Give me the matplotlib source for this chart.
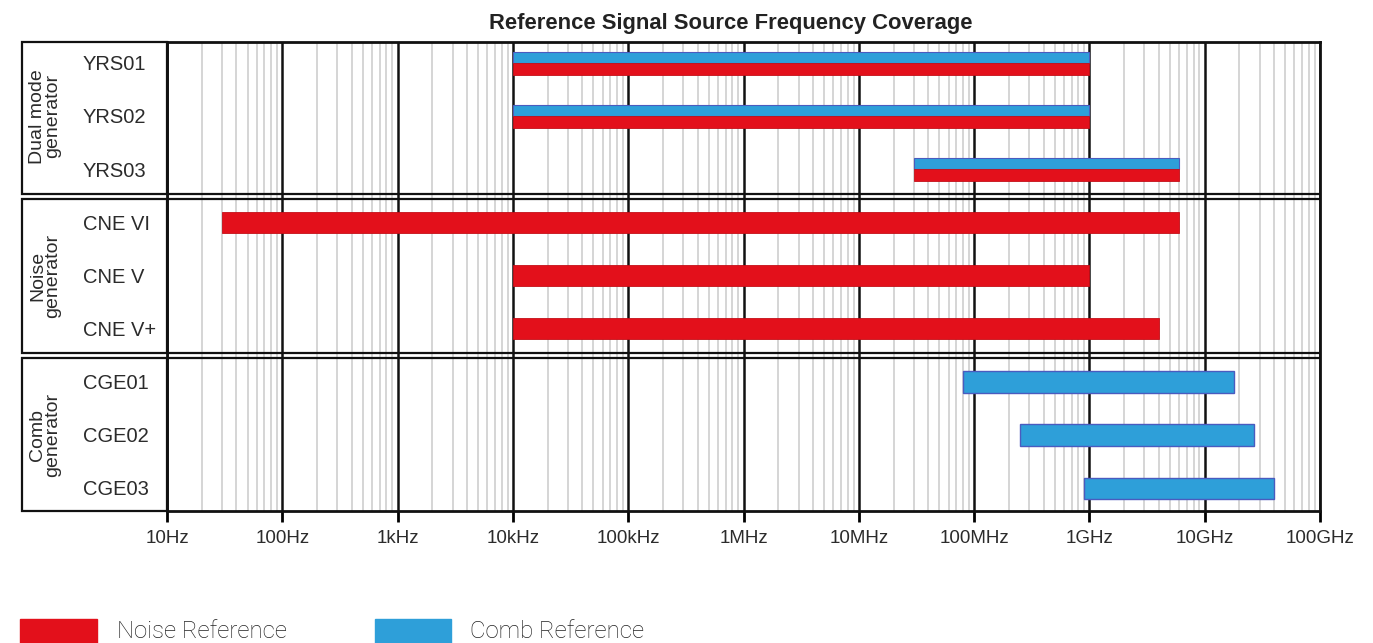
import matplotlib
matplotlib.use('Agg')
import matplotlib.pyplot as plt
import matplotlib.transforms as mtransforms
from matplotlib.patches import Rectangle
from matplotlib.ticker import LogLocator, FixedLocator, NullFormatter

plt.rcParams['font.family'] = ['Liberation Sans', 'DejaVu Sans']

# rows, top to bottom
devices = ['YRS01', 'YRS02', 'YRS03', 'CNE VI', 'CNE V', 'CNE V+', 'CGE01', 'CGE02', 'CGE03']
groups = ['Dual mode\ngenerator', 'Noise\ngenerator', 'Comb\ngenerator']
group_sizes = [3, 3, 3]

# frequency ranges in Hz (None = not covered)
noise_start = [1e4, 1e4, 3e7, 3e1, 1e4, 1e4, None, None, None]
noise_stop = [1e9, 1e9, 6e9, 6e9, 1e9, 4e9, None, None, None]
comb_start = [1e4, 1e4, 3e7, None, None, None, 8e7, 2.5e8, 9e8]
comb_stop = [1e9, 1e9, 6e9, None, None, None, 1.8e10, 2.65e10, 4e10]

freq_ticks = [1e1, 1e2, 1e3, 1e4, 1e5, 1e6, 1e7, 1e8, 1e9, 1e10, 1e11]
freq_labels = ['10Hz', '100Hz', '1kHz', '10kHz', '100kHz', '1MHz', '10MHz',
               '100MHz', '1GHz', '10GHz', '100GHz']

RED = '#e3101b'
BLUE = '#2e9fd9'
TXT = '#2b2b2b'

fig = plt.figure(figsize=(13.73, 6.43), dpi=100)
W, H = 1373, 643
ax = fig.add_axes([167 / W, 1 - 511 / H, (1320 - 167) / W, (511 - 42) / H])

ax.set_xscale('log')
ax.set_xlim(freq_ticks[0], freq_ticks[-1])
ax.set_ylim(8.43, -0.4)

ax.xaxis.set_major_locator(FixedLocator(freq_ticks))
ax.set_xticklabels(freq_labels, fontsize=13.5, color=TXT)
ax.xaxis.set_minor_locator(LogLocator(base=10, subs=range(2, 10), numticks=50))
ax.xaxis.set_minor_formatter(NullFormatter())
ax.tick_params(axis='x', which='major', direction='out', length=8, width=2, pad=6)
ax.tick_params(axis='x', which='minor', length=0)
ax.set_yticks([])

ax.grid(True, which='minor', axis='x', color='#d2d2d2', lw=1.3)
ax.grid(True, which='major', axis='x', color='#111111', lw=1.8)
ax.set_axisbelow(True)
for s in ax.spines.values():
    s.set_linewidth(2)
    s.set_color('#111111')

h_single = 0.40
h_dual = 0.44
for i in range(len(devices)):
    dual = noise_start[i] is not None and comb_start[i] is not None
    if dual:
        ax.barh(i - h_dual / 4, comb_stop[i] - comb_start[i], left=comb_start[i],
                height=h_dual / 2, color=BLUE, edgecolor='#4a5bbf', lw=0.8)
        ax.barh(i + h_dual / 4, noise_stop[i] - noise_start[i], left=noise_start[i],
                height=h_dual / 2, color=RED, edgecolor='#c40f18', lw=0.6)
    elif noise_start[i] is not None:
        ax.barh(i, noise_stop[i] - noise_start[i], left=noise_start[i],
                height=h_single, color=RED, edgecolor='#c40f18', lw=0.6)
    else:
        ax.barh(i, comb_stop[i] - comb_start[i], left=comb_start[i],
                height=h_single, color=BLUE, edgecolor='#4a5bbf', lw=1.0)

# group separators (double line) and the label panel
trans = mtransforms.blended_transform_factory(ax.transAxes, ax.transData)
panel_left = (22 - 167) / (1320 - 167)
gap = 0.047
ylo, yhi = ax.get_ylim()[1], ax.get_ylim()[0]
start = 0
for g, n in enumerate(group_sizes):
    top = ylo if g == 0 else start - 0.5 + gap
    bot = yhi if g == len(group_sizes) - 1 else start + n - 0.5 - gap
    if g < len(group_sizes) - 1:
        ax.axhline(start + n - 0.5 - gap, color='#111111', lw=1.6)
        ax.axhline(start + n - 0.5 + gap, color='#111111', lw=1.6)
    ax.add_patch(Rectangle((panel_left, top), -panel_left, bot - top, transform=trans,
                           fill=False, edgecolor='#111111', lw=1.6, clip_on=False))
    ax.text((45 - 167) / (1320 - 167), start + (n - 1) / 2, groups[g], transform=trans,
            rotation=90, ha='center', va='center', fontsize=14, color=TXT,
            linespacing=0.8)
    start += n

for i, name in enumerate(devices):
    ax.text((83 - 167) / (1320 - 167), i + 0.03, name, transform=trans, ha='left',
            va='center', fontsize=14.5, color=TXT)

fig.text(731 / W, 1 - 23 / H, 'Reference Signal Source Frequency Coverage',
         ha='center', va='center', fontsize=15.8, fontweight='bold', color='#222222')

# legend
leg_font = ['Roboto', 'Liberation Sans', 'DejaVu Sans']
fig.patches.append(Rectangle((20 / W, 0), 77 / W, (643 - 619) / H,
                             transform=fig.transFigure, color=RED))
fig.patches.append(Rectangle((375 / W, 0), 76 / W, (643 - 619) / H,
                             transform=fig.transFigure, color=BLUE))
fig.text(117 / W, 1 - 638 / H, 'Noise Reference', ha='left', va='baseline',
         fontsize=17.3, fontweight='light', color='#222222', family=leg_font)
fig.text(470 / W, 1 - 638 / H, 'Comb Reference', ha='left', va='baseline',
         fontsize=17.3, fontweight='light', color='#222222', family=leg_font)

fig.savefig('out.png', dpi=100)
